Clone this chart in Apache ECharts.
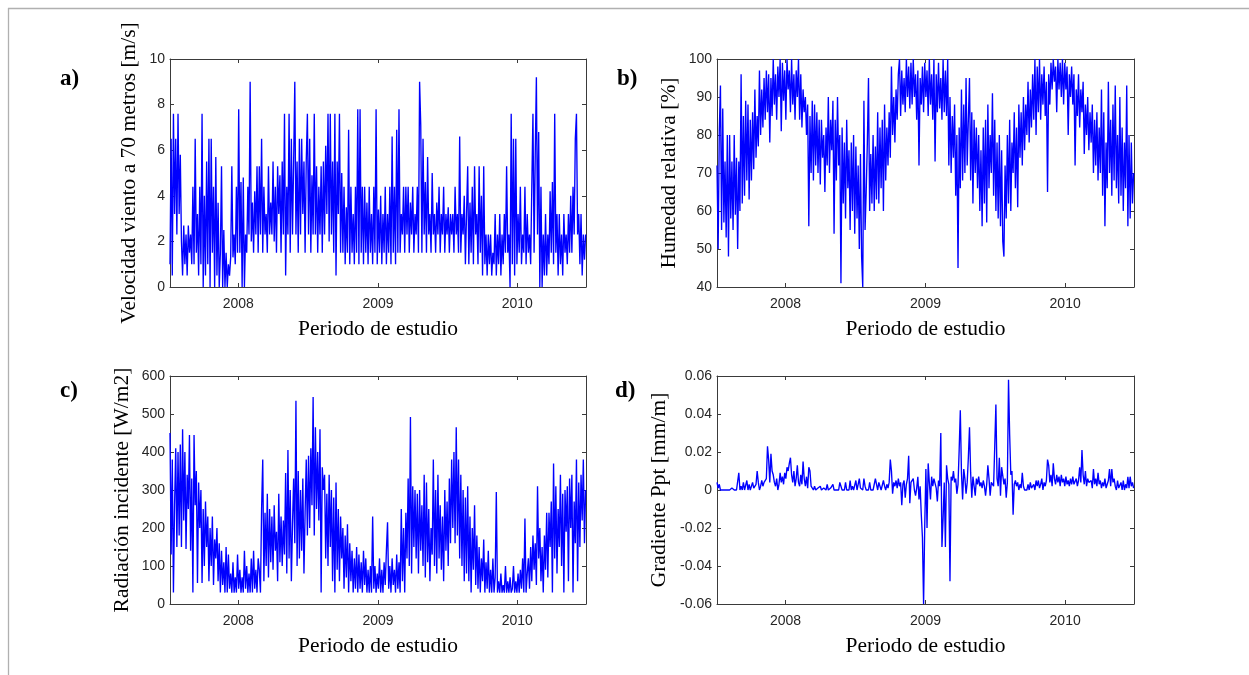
<!DOCTYPE html>
<html><head><meta charset="utf-8">
<script src="https://cdn.jsdelivr.net/npm/echarts@6/dist/echarts.min.js"></script>
<style>html,body{margin:0;padding:0;background:#fff}#c{width:1249px;height:675px}</style>
</head><body><div id="c"></div>
<script>
// ---- data (every 3rd day from 2007-07-06 to 2010-06-30) ----
const START_DATE = [2007, 6, 6];
const STEP_DAYS = 3;
const END_DATE = [2010, 5, 30];
const yearTicks = ['2008', '2009', '2010'];
const xTitle = 'Periodo de estudio';

const windSpeed = [
1,6.5,0.5,7.6,3.2,6.5,2.3,7.6,3.2,5.8,
2,0.5,2.7,1,2.3,0.5,2.7,1.5,2.3,1,
4.4,1,6.5,1.5,3.2,0.5,4.4,1,7.6,0,
4,0.5,5.5,1,6.5,0,6.5,1.5,4.4,0,
5.7,0.5,3.7,0,1.5,5.3,0,2.5,0,1.5,
0,1,0.5,1.3,5.3,1.3,2.3,1,4.4,1.5,
7.8,1.5,4.6,0,4.8,0,2.3,1.5,4.4,2.3,
9,2,3.7,1.5,4.2,2.3,5.3,1.5,5.3,2.3,
6.5,1.5,4.4,2.3,3.2,1.5,5.3,2.3,3.7,2.3,
5.5,2,4.4,1.5,5.3,3.2,4.9,1.5,5.5,2.3,
7.6,0.5,4.4,2.3,7.6,1.5,6.5,2.3,5.5,9,
2.3,5.5,1.5,6.5,2.3,6.5,3.2,5.5,1.5,5.5,
7.6,2.3,6.5,1.5,4.9,2.3,7.6,2.3,5.3,1.5,
4.4,2.3,5.3,1.5,5.5,2.3,6.2,3.2,7.6,2,
7.6,2.3,5.5,1.5,7.6,0.5,5.5,3.2,7.6,1.5,
5,1.5,4.4,1,3.5,1.5,6.9,1,4.4,1.5,
3.2,1,4.4,1.5,7.8,1,7.8,1.5,4.4,1,
4.4,1.5,3.7,1,4.4,1.5,3.2,1,4.4,1.5,
7.8,1,3.4,1.5,4,1,3.2,1.5,4.4,1,
3.2,1.5,4.4,1,6.6,1.5,4.4,1,6.9,1.5,
7.8,1.5,3.2,2.3,4.4,1.5,4.4,2.3,4.4,1.5,
3.7,2.3,4.4,1.5,3.2,2.3,4.4,1.5,9,7.1,
1.5,6.5,2.3,4.6,1.5,5.7,2.3,3.2,1.5,5,
2.3,3.2,1.5,3.7,2.3,4.4,1.5,3.2,2.3,4.4,
1.5,3.2,2.3,3.5,1.5,3.2,2.3,3.2,1.5,4.4,
2.3,3.2,1.5,6.6,1.5,3.2,2.3,4,1,3.2,
5.3,1,3.7,1.5,4.4,1,5.3,2.3,3.2,1,
5.3,1.5,4,0.5,5.3,1,2.3,0.5,2.3,1,
2.3,0.5,1.5,1,3.2,0.5,2.3,1,3.2,0.5,
2.3,1,3.2,1.5,5.3,1.5,2.3,0,7.6,1,
6.5,0.5,6.5,1,3.2,1.5,4.4,1,2.3,1.5,
4.4,1,3.2,1.5,2.3,1,4.4,7.6,1.5,5.8,
9.2,2.3,6.8,0,4.4,0,2.3,0.5,3.2,0.5,
2.3,1,4.2,1.5,4.6,1,7.6,1.5,3.2,0.5,
3.2,1,2.3,0.5,3.2,1.5,2.3,1,3.2,1.5,
4,1.5,4.4,2.3,6.5,7.6,2.3,3.2,1,3.2,
0.5,2.3,1.2,2.3];

const humidity = [
72,50,81,93,55,87,57,73,53,80,
48,80,58,73,55,80,59,74,50,73,
60,96,62,85,64,89,68,88,63,84,
68,86,71,92,74,85,77,97,80,92,
82,95,84,97,86,96,78,95,85,100,
88,96,84,98,90,100,81,99,89,97,
84,100,92,97,86,100,88,96,84,97,
90,100,84,96,82,92,86,90,80,88,
56,85,70,89,68,88,72,86,70,84,
67,84,74,80,65,82,72,90,70,84,
76,89,54,84,68,90,72,80,41,82,
62,78,58,84,66,76,55,78,60,80,
54,77,58,72,50,75,48,40,89,55,
65,78,95,60,75,62,80,60,77,63,
86,62,82,66,84,60,88,68,82,72,
86,74,98,80,90,78,92,84,96,100,
85,97,88,95,86,100,90,98,87,99,
88,100,90,96,84,97,72,95,88,98,
86,99,90,97,85,100,88,96,84,100,
73,96,86,99,87,95,84,100,86,97,
85,100,72,90,70,85,74,88,64,80,
45,82,66,92,68,88,70,95,72,84,
95,68,86,62,84,70,82,66,80,60,
76,56,82,62,84,57,88,66,80,70,
91,64,84,60,78,58,80,56,76,52,
48,72,58,80,62,84,60,78,70,86,
66,82,61,88,74,86,72,90,76,88,
80,94,78,92,82,96,84,100,80,98,
86,100,84,96,88,98,85,94,65,96,
88,99,92,100,94,98,86,100,92,99,
90,100,88,99,92,98,80,96,90,98,
88,96,72,92,85,96,82,92,86,94,
75,88,80,90,76,86,78,88,70,84,
72,86,68,82,70,92,64,86,56,78,
66,94,70,84,64,88,68,93,66,80,
62,90,64,82,60,78,66,93,56,80,
58,78,62,70];

const radiation = [
450,130,380,30,260,410,150,400,180,420,
150,460,220,400,145,340,250,445,140,330,
30,445,260,350,55,320,200,300,55,250,
100,270,150,230,60,200,100,230,50,170,
120,200,60,160,30,140,50,110,30,150,
30,130,40,80,30,110,30,70,30,130,
40,90,30,70,30,140,40,100,30,80,
30,120,30,140,40,90,30,120,90,30,
250,380,60,240,100,290,70,250,110,230,
90,260,140,190,60,290,110,230,100,220,
130,345,80,405,120,300,60,210,330,160,
535,100,350,120,300,140,330,80,240,380,
180,390,200,410,260,545,180,465,250,400,
220,460,30,360,300,340,120,290,100,340,
150,300,60,280,30,320,90,250,60,230,
120,200,40,180,70,210,30,160,60,140,
30,120,40,150,30,130,40,110,30,140,
50,120,30,90,30,100,30,230,40,100,
30,80,40,120,30,90,30,110,50,140,
215,40,100,30,120,50,90,30,130,40,
110,30,250,60,200,30,240,120,330,100,
492,80,310,150,300,120,290,80,300,140,
260,100,340,70,320,110,250,60,200,130,
380,100,300,80,340,120,260,90,230,60,
300,140,270,100,330,160,380,200,400,160,
465,180,380,120,340,100,300,60,280,80,
310,60,230,30,200,90,260,50,180,40,
150,30,120,60,170,30,110,40,140,30,
90,30,120,30,70,295,30,60,30,80,
30,50,30,100,30,60,30,70,30,40,
100,30,60,30,80,30,90,40,120,30,
225,30,80,120,40,150,60,180,90,160,
50,310,120,200,60,150,30,180,90,240,
70,240,150,270,30,370,120,310,80,250,
150,340,100,290,30,300,190,310,60,330,
200,340,30,270,160,380,60,320,150,340,
220,380,160,300];

const gradient = [
0.004,0.001,0.003,0,0,0,0,0,0,0,
0,0,0,0.001,0,0,0,0,0,0.009,
0,0.002,0,0.004,0,0.001,0.005,0,0.003,0,
0.002,0.004,0.001,0,0.003,0.01,0.004,0,0.002,0.005,
0.002,0.004,0.003,0.006,0.023,0.016,0.004,0.019,0.01,0.008,
0.004,0.002,0.006,0,0.003,0.009,0.004,0.007,0.003,0.009,
0.006,0.012,0.01,0.014,0.017,0.008,0.004,0.01,0.002,0.006,
0.013,0.004,0.002,0.008,0.003,0.015,0.006,0.002,0.007,0.001,
0.012,0.01,0.002,0.001,0,0.002,0,0,0.001,0,
0.002,0,0,0.001,0,0,0.003,0,0,0.001,
0,0.003,0,0,0,0.001,0,0.004,0.002,0,
0,0,0.004,0,0,0,0.005,0,0.002,0,
0,0.005,0,0,0.006,0.001,0,0,0.006,0.002,
0,0,0,0.004,0,0.001,0,0,0.006,0.003,
0,0.004,0.002,0,0,0.005,0.002,0,0.003,0.001,
0.004,0.016,0.01,-0.002,0.004,0.002,0.005,0.001,0.006,0.002,
0.004,-0.008,0.003,0.005,-0.004,0.003,0.006,0.018,-0.007,0.004,
0.003,0.006,0,-0.003,0.001,0.007,-0.005,0.002,-0.013,-0.025,
-0.06,-0.019,0.011,-0.02,0.014,0.004,-0.005,0.007,0.002,0.006,
0.007,0.001,-0.006,0.005,0.002,0.03,-0.03,-0.015,0.004,-0.03,
0.013,0.006,0.003,-0.048,0.007,0.005,0.01,0.004,0.006,-0.002,
0.003,0.021,0.042,0.009,-0.005,0.011,0.006,-0.002,0.004,0.017,
0.033,0.009,-0.004,0.007,0.002,-0.003,0.006,0.003,0.007,0.002,
0.004,0.001,0.005,0.002,-0.003,0.003,0.013,0.006,-0.003,0.004,
0.005,0.002,0.023,0.045,0.006,0.002,0.017,-0.003,0.012,0.011,
0.003,0.006,-0.004,0.004,0.058,0.029,0.008,0.01,-0.013,0.003,
0.005,0.002,0.004,0,0.003,0.001,0.009,0.002,0,0.001,
0,0.003,0,0.004,0.001,0,0.003,0,0.005,0.002,
0.005,0.001,0.003,0.006,0,0.004,0.002,0.005,0.016,0.013,
0.004,0.008,0.002,0.014,0.006,0.003,0.008,0.004,0.007,0.002,
0.008,0.004,0.006,0.002,0.007,0.003,0.005,0.002,0.006,0.003,
0.007,0.003,0.004,0.006,0.002,0.005,0.012,0.004,0.021,0.008,
0.003,0.01,0.002,0.006,0.004,0.003,0.005,0.001,0.011,0.003,
0.006,0.002,0.009,0.003,0.005,0.001,0.004,0.002,0.006,0.001,
0.003,0.005,0.011,0.002,0.011,0.004,0.006,0.002,0,0.005,
0.001,0,0.004,0,0.005,0,0.003,0.001,0.007,0.001,
0.007,0.002,0.004,0.001];

// ---- layout ----
const DAY = 86400000;
const base = Date.UTC(2008, 0, 1);
const x0 = (Date.UTC(...START_DATE) - base) / DAY;
const xEnd = (Date.UTC(...END_DATE) - base) / DAY;
const tickPos = yearTicks.map(y => (Date.UTC(+y, 0, 1) - base) / DAY);
const tickLabel = {}; tickPos.forEach((p, k) => tickLabel[p] = yearTicks[k]);

const panels = [
  {data: windSpeed, left: 170, top: 59, width: 416, min: 0, max: 10, interval: 2,
   yName: 'Velocidad viento a 70 metros [m/s]', yGap: 30, letter: 'a)', lx: 60, ly: 81},
  {data: humidity, left: 717, top: 59, width: 417, min: 40, max: 100, interval: 10,
   yName: 'Humedad relativa [%]', yGap: 37, letter: 'b)', lx: 617, ly: 81},
  {data: radiation, left: 170, top: 376, width: 416, min: 0, max: 600, interval: 100,
   yName: 'Radiación incidente [W/m2]', yGap: 37, letter: 'c)', lx: 60, ly: 393},
  {data: gradient, left: 717, top: 376, width: 417, min: -0.06, max: 0.06, interval: 0.02,
   yName: 'Gradiente Ppt [mm/m]', yGap: 47, letter: 'd)', lx: 615, ly: 393}
];
const H = 228;
const AX = '#3a3a3a';
const tickFont = {fontFamily: 'Liberation Sans', fontSize: 14, color: '#262626'};
const nameFont = {fontFamily: 'Liberation Serif', fontSize: 21.5, color: '#000'};

const grid = [], xAxis = [], yAxis = [], series = [], graphic = [];
panels.forEach((p, k) => {
  grid.push({left: p.left, top: p.top, width: p.width, height: H, containLabel: false});
  const common = {type: 'value', gridIndex: k, min: x0, max: xEnd,
    axisLine: {show: true, onZero: false, lineStyle: {color: AX, width: 1}},
    axisTick: {show: true, inside: true, length: 4, customValues: tickPos, lineStyle: {color: AX}},
    splitLine: {show: false}};
  xAxis.push(Object.assign({}, common, {position: 'bottom',
    axisLabel: Object.assign({show: true, margin: 10, customValues: tickPos,
      formatter: v => tickLabel[v] || ''}, tickFont),
    name: xTitle, nameLocation: 'middle', nameGap: 31, nameTextStyle: nameFont}));
  xAxis.push(Object.assign({}, common, {position: 'top', axisLabel: {show: false}}));
  const fmt = v => {
    if (Math.abs(v) < 1e-9) return '0';
    return p.interval < 1 ? v.toFixed(2) : String(Math.round(v));
  };
  const ycommon = {type: 'value', gridIndex: k, min: p.min, max: p.max, interval: p.interval,
    axisLine: {show: true, onZero: false, lineStyle: {color: AX, width: 1}},
    axisTick: {show: true, inside: true, length: 4, lineStyle: {color: AX}},
    splitLine: {show: false}};
  yAxis.push(Object.assign({}, ycommon, {position: 'left',
    axisLabel: Object.assign({show: true, margin: 5, formatter: fmt}, tickFont),
    name: p.yName, nameLocation: 'middle', nameRotate: 90, nameGap: p.yGap, nameTextStyle: nameFont}));
  yAxis.push(Object.assign({}, ycommon, {position: 'right', axisLabel: {show: false}}));
  series.push({type: 'line', xAxisIndex: 2 * k, yAxisIndex: 2 * k,
    data: p.data.map((v, i) => [x0 + i * STEP_DAYS, v]),
    showSymbol: false, symbol: 'none', silent: true,
    lineStyle: {color: '#0000ff', width: 1.35}, animation: false});
  graphic.push({type: 'text', left: p.lx, top: p.ly - 13,
    style: {text: p.letter, fontFamily: 'Liberation Serif', fontWeight: 'bold', fontSize: 23, fill: '#000'}});
});
graphic.push({type: 'line', shape: {x1: 8, y1: 8.5, x2: 1249, y2: 8.5}, style: {stroke: '#b0b0b0', lineWidth: 1.3}});
graphic.push({type: 'line', shape: {x1: 8.5, y1: 8, x2: 8.5, y2: 675}, style: {stroke: '#b0b0b0', lineWidth: 1.3}});

const chart = echarts.init(document.getElementById('c'), null, {renderer: 'canvas'});
chart.setOption({animation: false, backgroundColor: '#fff', grid, xAxis, yAxis, series, graphic});
</script>
</body></html>
